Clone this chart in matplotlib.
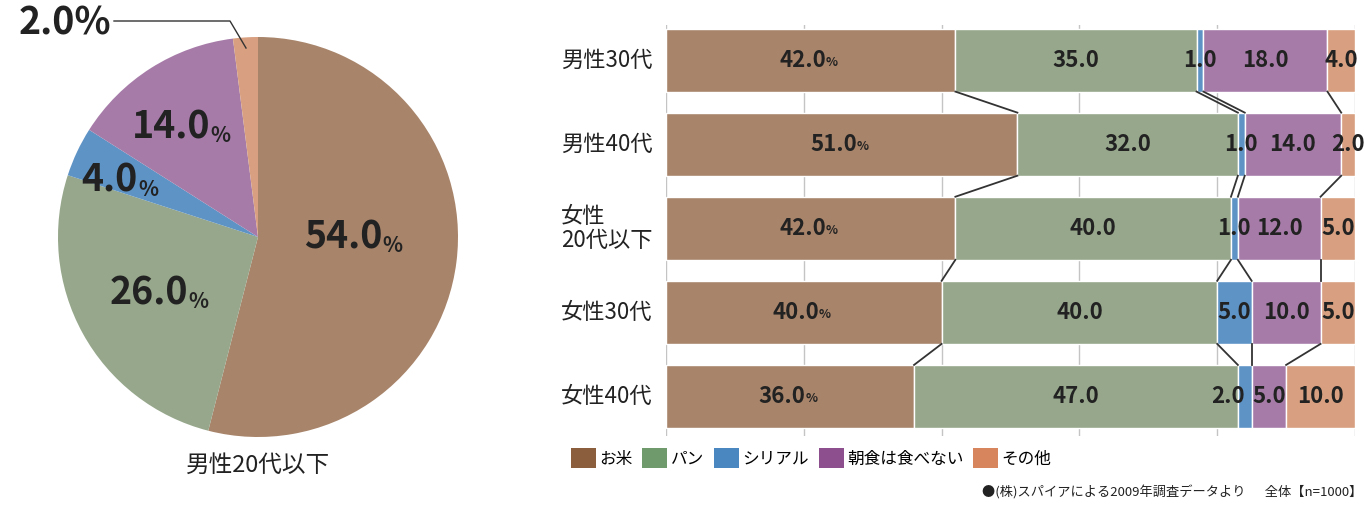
import numpy as np
import matplotlib.pyplot as plt
from matplotlib.patches import Patch

plt.rcParams['font.family'] = ['Noto Sans CJK JP', 'DejaVu Sans']

# data
categories = ['お米', 'パン', 'シリアル', '朝食は食べない', 'その他']
pie_values = [54.0, 26.0, 4.0, 14.0, 2.0]
pie_title = '男性20代以下'

rows = ['男性30代', '男性40代', '女性\n20代以下', '女性30代', '女性40代']
rice = [42.0, 51.0, 42.0, 40.0, 36.0]
bread = [35.0, 32.0, 40.0, 40.0, 47.0]
cereal = [1.0, 1.0, 1.0, 5.0, 2.0]
skip = [18.0, 14.0, 12.0, 10.0, 5.0]
other = [4.0, 2.0, 5.0, 5.0, 10.0]

colors = ['#A8846A', '#96A78B', '#5E93C6', '#A67BA8', '#D8A080']
legend_colors = ['#8B5E3E', '#6E9A6C', '#4A86C0', '#8E4F8E', '#D7855C']

W, H = 1366, 505
fig = plt.figure(figsize=(W / 100, H / 100), dpi=100)

# ---- pie ----
cx, cy, r = 258, 237, 200
axp = fig.add_axes([(cx - r) / W, 1 - (cy + r) / H, 2 * r / W, 2 * r / H])
axp.pie(pie_values, colors=colors, startangle=90, counterclock=False,
        wedgeprops=dict(linewidth=0))
axp.set_xlim(-1, 1)
axp.set_ylim(-1, 1)
axp.set_aspect('auto')
axp.axis('off')

def pct_label(ax, x, y, val, big, small, trans):
    t = ax.text(x, y, f'{val:.1f}', fontsize=big, fontweight='bold', color='#222222',
                ha='right', va='center', transform=trans)
    ax.annotate('%', xy=(1, 0), xycoords=t, fontsize=small, fontweight='bold',
                color='#222222', ha='left', va='bottom')

pie_pos = [(382, 237), (188, 293), (138, 180), (210, 127)]
for (px, py), v in zip(pie_pos, pie_values[:4]):
    pct_label(axp, px / W, 1 - py / H, v, 27, 15, fig.transFigure)

fig.text(65 / W, 1 - 23 / H, '2.0%', fontsize=27, fontweight='bold', color='#222222',
         ha='center', va='center')
fig.add_artist(plt.Line2D([114 / W, 230 / W, 246 / W], [1 - 21 / H, 1 - 21 / H, 1 - 48 / H],
                          color='#333333', lw=1.0))
fig.text(cx / W, 1 - 465 / H, pie_title, fontsize=17, ha='center', va='center', color='#222222')

# ---- stacked bars ----
x0, x1 = 666, 1355
top, bot = 25, 436
axb = fig.add_axes([x0 / W, 1 - bot / H, (x1 - x0) / W, (bot - top) / H])
series = [rice, bread, cereal, skip, other]
y = np.arange(len(rows))
bh = 0.75
left = np.zeros(len(rows))
cums = []
for s, c in zip(series, colors):
    axb.barh(y, s, left=left, height=bh, color=c, edgecolor='white', linewidth=1.0, zorder=2)
    left = left + np.array(s)
    cums.append(left.copy())

axb.set_xlim(0, 100)
axb.set_ylim(4.47, -0.417)
axb.set_xticks([0, 20, 40, 60, 80, 100])
axb.grid(axis='x', color='#C4C4C4', lw=1.0, zorder=0)
axb.tick_params(length=0, labelbottom=False)
axb.set_yticks(y)
axb.set_yticklabels([])
for sp in axb.spines.values():
    sp.set_visible(False)

for i, lab in enumerate(rows):
    axb.text(-0.152, i, lab, transform=axb.get_yaxis_transform(), ha='left', va='center',
             fontsize=16, color='#222222', linespacing=1.05)

# connectors between bars
for i in range(len(rows) - 1):
    for k in range(4):
        axb.plot([cums[k][i], cums[k][i + 1]], [i + bh / 2, i + 1 - bh / 2],
                 color='#333333', lw=1.3, zorder=3, clip_on=False)

# labels (small nudge where the reference shifts a crowded label)
nudge = {(4, 2): -2.5}
for i in range(len(rows)):
    start = 0
    for k, s in enumerate(series):
        xc = start + s[i] / 2 + nudge.get((i, k), 0)
        if k == 0:
            t = axb.text(xc - 1.2, i, f'{s[i]:.1f}', fontsize=16, fontweight='bold',
                         color='#222222', ha='center', va='center', zorder=4)
            axb.annotate('%', xy=(1, 0.12), xycoords=t, fontsize=9, fontweight='bold',
                         color='#222222', ha='left', va='bottom', zorder=4)
        else:
            axb.text(xc, i, f'{s[i]:.1f}', fontsize=16, fontweight='bold',
                     color='#222222', ha='center', va='center', zorder=4, clip_on=False)
        start += s[i]

# legend
handles = [Patch(facecolor=c, edgecolor='none') for c in legend_colors]
fig.legend(handles, categories, loc='center left', bbox_to_anchor=(564 / W, 1 - 458 / H),
           ncol=5, frameon=False, fontsize=12, handlelength=1.5, handleheight=1.4,
           handletextpad=0.2, columnspacing=0.6, borderaxespad=0)

fig.text(1362 / W, 1 - 492 / H, '●(株)スパイアによる2009年調査データより　  全体【n=1000】',
         fontsize=9.5, ha='right', va='center', color='#222222')

fig.savefig('out.png', dpi=100, facecolor='white')
